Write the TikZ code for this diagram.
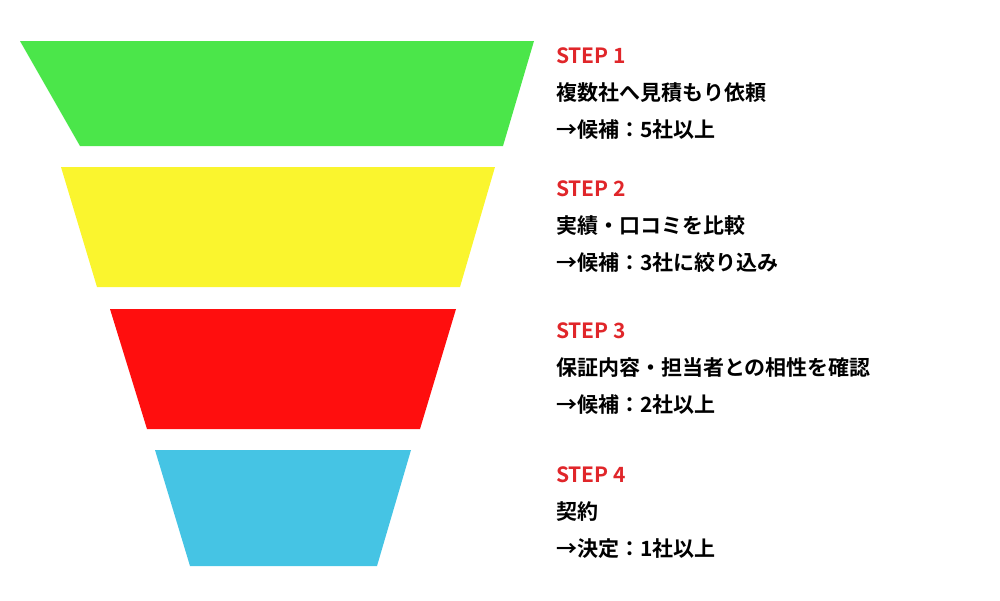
\documentclass[tikz,border=0pt]{standalone}
\usepackage{fontspec}
\newfontfamily\jp{Noto Sans CJK JP}[BoldFont={* Bold}]
\definecolor{cg}{HTML}{4BE64A}
\definecolor{cy}{HTML}{FAF52E}
\definecolor{cr}{HTML}{FF0E0E}
\definecolor{cb}{HTML}{45C4E4}
\definecolor{st}{HTML}{E0262A}
\tikzset{lbl/.style={anchor=west,align=left,inner sep=0pt,font=\jp\bfseries\fontsize{21}{37}\selectfont}}
\begin{document}
\begin{tikzpicture}[x=1pt,y=-1pt]
\useasboundingbox (0,0) rectangle (1000,600);
\fill[cg] (20,41) -- (534,41) -- (503,146) -- (80,146) -- cycle;
\fill[cy] (61,167) -- (495,167) -- (460,287) -- (97,287) -- cycle;
\fill[cr] (110,309) -- (456,309) -- (420,429) -- (147,429) -- cycle;
\fill[cb] (155,450) -- (411,450) -- (377,566) -- (190,566) -- cycle;
\node[lbl] (t1) at (556,94) {\textcolor{st}{STEP 1}\\複数社へ見積もり依頼\\→候補：5社以上};
\node[lbl] (t2) at (556,227) {\textcolor{st}{STEP 2}\\実績・口コミを比較\\→候補：3社に絞り込み};
\node[lbl] (t3) at (556,369) {\textcolor{st}{STEP 3}\\保証内容・担当者との相性を確認\\→候補：2社以上};
\node[lbl] (t4) at (556,513) {\textcolor{st}{STEP 4}\\契約\\→決定：1社以上};
\end{tikzpicture}
\end{document}
